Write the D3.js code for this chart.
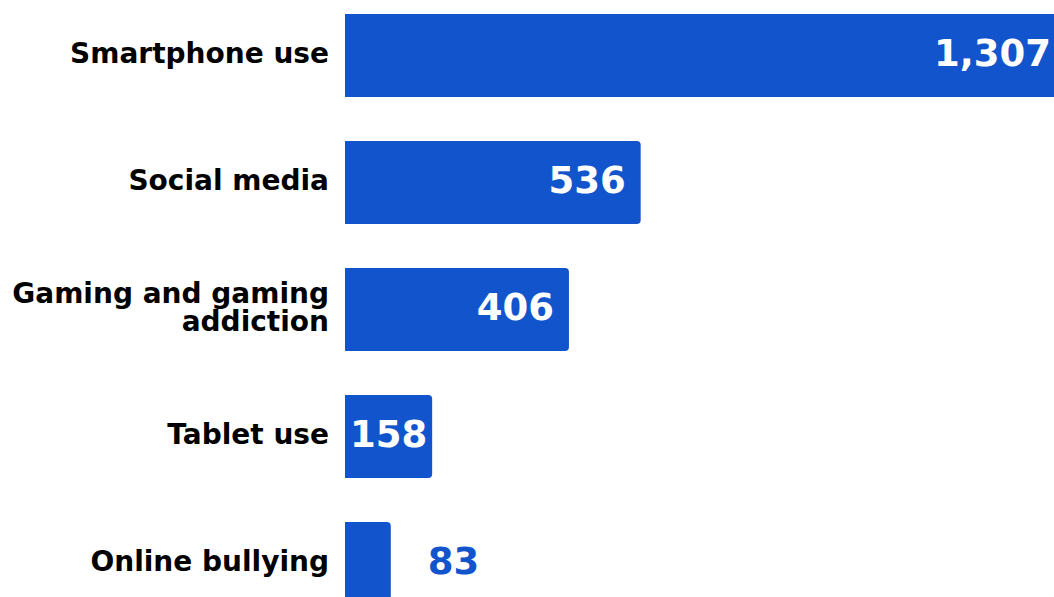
<!DOCTYPE html>
<html>
<head>
<meta charset="utf-8">
<script src="https://cdn.jsdelivr.net/npm/d3@7"></script>
<style>
  html, body { margin: 0; padding: 0; background: #ffffff; overflow: hidden; }
  svg { display: block; }
  text { font-family: "DejaVu Sans", sans-serif; font-weight: bold; }
</style>
</head>
<body>
<svg id="chart" width="1054" height="597"></svg>
<script>
// Screen-related issues reported (number of mentions)
const categories = [
  ["Smartphone use"],
  ["Social media"],
  ["Gaming and gaming", "addiction"],
  ["Tablet use"],
  ["Online bullying"]
];
const values = [1307, 536, 406, 158, 83];

const barColor = "#1254cc";
const svg = d3.select("#chart");

const x = d3.scaleLinear().domain([0, 1307]).range([345, 1066]);
const y = d3.scaleBand()
  .domain(d3.range(values.length))
  .range([-8, 627])
  .paddingInner(44 / 127)
  .paddingOuter(22 / 127);

const fmt = d3.format(",");
const r = 4;

function barPath(v, i) {
  const x0 = x(0), x1 = x(v), y0 = y(i), h = y.bandwidth();
  const rr = Math.min(r, (x1 - x0) / 2);
  return `M${x0},${y0} H${x1 - rr} Q${x1},${y0} ${x1},${y0 + rr} V${y0 + h - rr} Q${x1},${y0 + h} ${x1 - rr},${y0 + h} H${x0} Z`;
}

const rows = svg.selectAll("g.row")
  .data(values)
  .join("g")
  .attr("class", "row");

rows.append("path")
  .attr("d", (d, i) => barPath(d, i))
  .attr("fill", barColor);

// Category labels, right aligned against the bars
rows.append("text")
  .attr("text-anchor", "end")
  .attr("x", 329)
  .attr("font-size", 28)
  .attr("fill", "#000000")
  .each(function (d, i) {
    const lines = categories[i];
    const lh = 28;
    const cy = y(i) + y.bandwidth() / 2 - 3;
    const startY = cy - ((lines.length - 1) * lh) / 2;
    d3.select(this).selectAll("tspan")
      .data(lines)
      .join("tspan")
      .attr("x", 329)
      .attr("y", (l, k) => startY + k * lh)
      .attr("dy", "0.36em")
      .text(l => l);
  });

// Value labels: inside right when room, centred when tight, outside when too small
rows.append("text")
  .attr("font-size", 37)
  .attr("y", (d, i) => y(i) + y.bandwidth() / 2 - 3)
  .attr("dy", "0.36em")
  .text(d => fmt(d))
  .each(function (d) {
    const t = d3.select(this);
    const w = this.getComputedTextLength();
    const barW = x(d) - x(0);
    const pad = 15;
    if (barW >= w + 2 * pad) {
      t.attr("text-anchor", "end").attr("x", x(d) - pad).attr("fill", "#ffffff");
    } else if (barW >= w + 8) {
      t.attr("text-anchor", "middle").attr("x", (x(0) + x(d)) / 2).attr("fill", "#ffffff");
    } else {
      t.attr("text-anchor", "start").attr("x", x(d) + 37).attr("fill", barColor);
    }
  });
</script>
</body>
</html>
